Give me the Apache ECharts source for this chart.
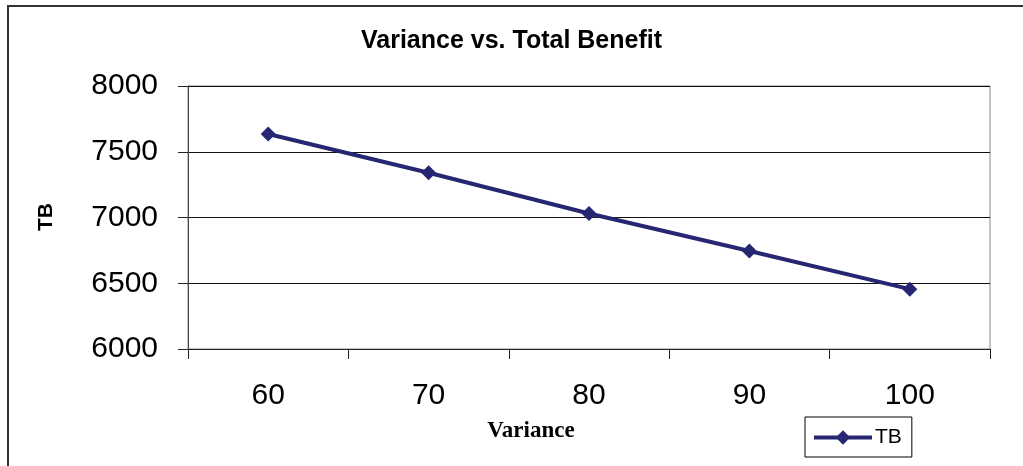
<!DOCTYPE html>
<html>
<head>
<meta charset="utf-8">
<script src="https://cdn.jsdelivr.net/npm/echarts@6/dist/echarts.min.js"></script>
<style>
  html, body { margin: 0; padding: 0; background: #fff; }
  #chart { width: 1023px; height: 466px; }
</style>
</head>
<body>
<div id="chart"></div>
<script>
// data
var variance = ['60', '70', '80', '90', '100']
var tb = [7635, 7340, 7030, 6745, 6455]
var yTicks = [6000, 8000, 500] // min, max, interval

var lineColor = '#262673'

var chart = echarts.init(document.getElementById('chart'))
chart.setOption({
  animation: false,
  backgroundColor: '#fff',
  title: {
    text: 'Variance vs. Total Benefit',
    left: 'center',
    top: 24,
    textStyle: {
      fontFamily: 'Liberation Sans',
      fontSize: 25,
      fontWeight: 'bold',
      color: '#000'
    }
  },
  legend: {
    left: 805,
    top: 417,
    padding: [10, 10, 9, 7],
    borderColor: '#000',
    borderWidth: 1,
    borderRadius: 0,
    itemWidth: 58,
    itemHeight: 18,
    itemGap: 4,
    lineStyle: { width: 4 },
    textStyle: { fontFamily: 'Liberation Sans', fontSize: 21, color: '#000', padding: [0, 0, 0, -2] },
    data: ['TB']
  },
  grid: {
    left: 188,
    top: 86,
    right: 33,
    bottom: 117,
    show: true,
    borderColor: '#888',
    borderWidth: 1
  },
  xAxis: {
    type: 'category',
    data: variance,
    boundaryGap: true,
    axisLine: { lineStyle: { color: '#222', width: 1 } },
    axisTick: { show: true, length: 10, inside: false, lineStyle: { color: '#222' } },
    axisLabel: { fontFamily: 'Liberation Sans', fontSize: 30, color: '#000', margin: 32 },
    splitLine: { show: false }
  },
  yAxis: {
    type: 'value',
    min: yTicks[0],
    max: yTicks[1],
    interval: yTicks[2],
    axisLine: { show: true, lineStyle: { color: '#444', width: 1 } },
    axisTick: { show: true, length: 10, lineStyle: { color: '#222' } },
    axisLabel: {
      fontFamily: 'Liberation Sans', fontSize: 30, color: '#000', margin: 30,
      formatter: function (v) { return String(v) }
    },
    splitLine: { show: true, lineStyle: { color: '#111', width: 1 } }
  },
  graphic: [
    {
      type: 'rect',
      shape: { x: 8, y: 6, width: 1040, height: 480 },
      style: { fill: 'none', stroke: '#333', lineWidth: 2 },
      silent: true,
      z: 100
    },
    {
      type: 'text',
      x: 46,
      y: 217,
      rotation: Math.PI / 2,
      style: {
        text: 'TB',
        fontFamily: 'Liberation Sans',
        fontSize: 21,
        fontWeight: 'bold',
        fill: '#000',
        align: 'center',
        verticalAlign: 'middle'
      }
    },
    {
      type: 'text',
      x: 531,
      y: 431,
      style: {
        text: 'Variance',
        fontFamily: 'Liberation Serif',
        fontSize: 23,
        fontWeight: 'bold',
        fill: '#000',
        align: 'center',
        verticalAlign: 'middle'
      }
    }
  ],
  series: [{
    name: 'TB',
    type: 'line',
    data: tb,
    symbol: 'diamond',
    symbolSize: 15,
    lineStyle: { color: lineColor, width: 4 },
    itemStyle: { color: lineColor, borderWidth: 0 }
  }]
})
</script>
</body>
</html>
